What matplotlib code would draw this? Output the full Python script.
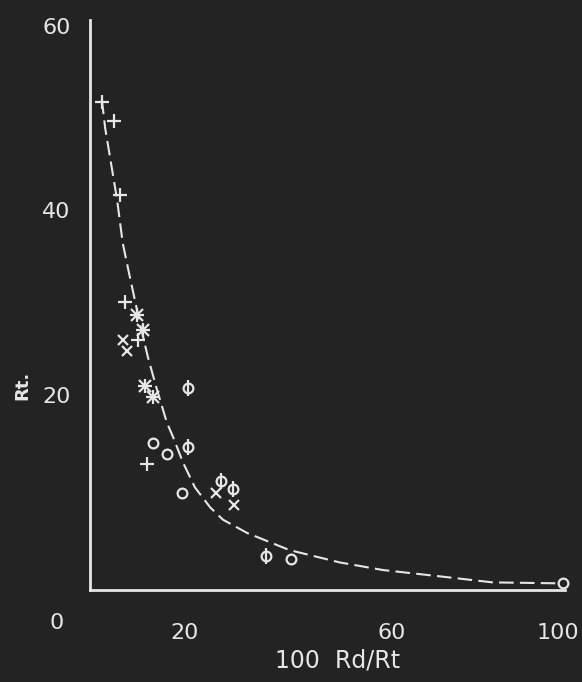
import matplotlib
matplotlib.use("Agg")
import matplotlib.pyplot as plt

# points (x = 100 Rd/Rt, y = Rt)
plus_x = [2.5, 5.1, 6.3, 7.4, 10.1, 12.0]
plus_y = [51.4, 49.4, 41.6, 30.3, 26.3, 13.3]

star_x = [9.9, 11.2, 11.6, 13.3]          # + and x drawn on top of each other
star_y = [28.9, 27.4, 21.5, 20.3]

cross_x = [6.9, 7.8, 26.5, 30.3]
cross_y = [26.3, 25.1, 10.2, 8.9]

circ_x = [13.3, 16.2, 19.4, 42.3, 99.6]
circ_y = [15.5, 14.3, 10.2, 3.3, 0.7]

phi_x = [20.6, 20.6, 27.6, 30.1, 37.1]
phi_y = [21.3, 15.1, 11.5, 10.6, 3.6]

# hand-drawn dashed curve
curve_x = [2.5, 3.2, 4.6, 5.7, 6.9, 8.2, 10.5, 12.2, 14.1, 16.2, 17.5, 19.6,
           22.1, 25.3, 28.0, 33.1, 42.0, 52.6, 61.7, 74.3, 84.8, 98.9]
curve_y = [51.6, 48.6, 44.4, 41.1, 36.5, 33.4, 28.1, 24.5, 21.1, 17.6, 16.1, 13.4,
           10.8, 8.7, 7.4, 6.0, 4.2, 2.9, 2.1, 1.4, 0.8, 0.7]

# tick labels were lettered by hand, slightly off the true positions
xtick_pos = [20, 63.5, 98.5]
xtick_lab = ["20", "60", "100"]
ytick_pos = [20.5, 40, 59.3]
ytick_lab = ["20", "40", "60"]

BG = "#232323"
FG = "#e6e6e6"

fig = plt.figure(figsize=(5.82, 6.82), dpi=100, facecolor=BG)
ax = fig.add_axes([0.1546, 0.1349, 0.816, 0.836], facecolor=BG)

ax.plot(curve_x, curve_y, color=FG, lw=1.5, dashes=(7, 3), clip_on=False)

mk = dict(linestyle="none", color=FG, mew=1.6, clip_on=False, zorder=3)
ax.plot(plus_x, plus_y, marker="+", ms=10, **mk)
ax.plot(star_x, star_y, marker="+", ms=10, **mk)
ax.plot(star_x, star_y, marker="x", ms=8, **mk)
ax.plot(cross_x, cross_y, marker="x", ms=7, **mk)
ax.plot(circ_x, circ_y, marker="o", ms=7, mfc="none", **mk)
ax.plot(phi_x, phi_y, marker="o", ms=7, mfc="none", **mk)
ax.plot(phi_x, phi_y, marker="|", ms=11, **mk)

ax.set_xlim(0, 100)
ax.set_ylim(0, 60)
for s in ("top", "right"):
    ax.spines[s].set_visible(False)
for s in ("left", "bottom"):
    ax.spines[s].set_color(FG)
    ax.spines[s].set_linewidth(2)

ax.set_xticks(xtick_pos, xtick_lab)
ax.set_yticks(ytick_pos, ytick_lab)
ax.tick_params(length=0, colors=FG, labelsize=16)
ax.tick_params(axis="x", pad=24)
ax.tick_params(axis="y", pad=14)
ax.text(-7, -3.5, "0", color=FG, fontsize=16, ha="center", va="center", clip_on=False)

fig.text(0.038, 0.435, "Rt.", rotation=90, color=FG, fontsize=13,
         fontweight="bold", ha="center", va="center")
fig.text(0.58, 0.032, "100  Rd/Rt", color=FG, fontsize=17, ha="center", va="center")

fig.savefig("out.png", dpi=100, facecolor=BG)
